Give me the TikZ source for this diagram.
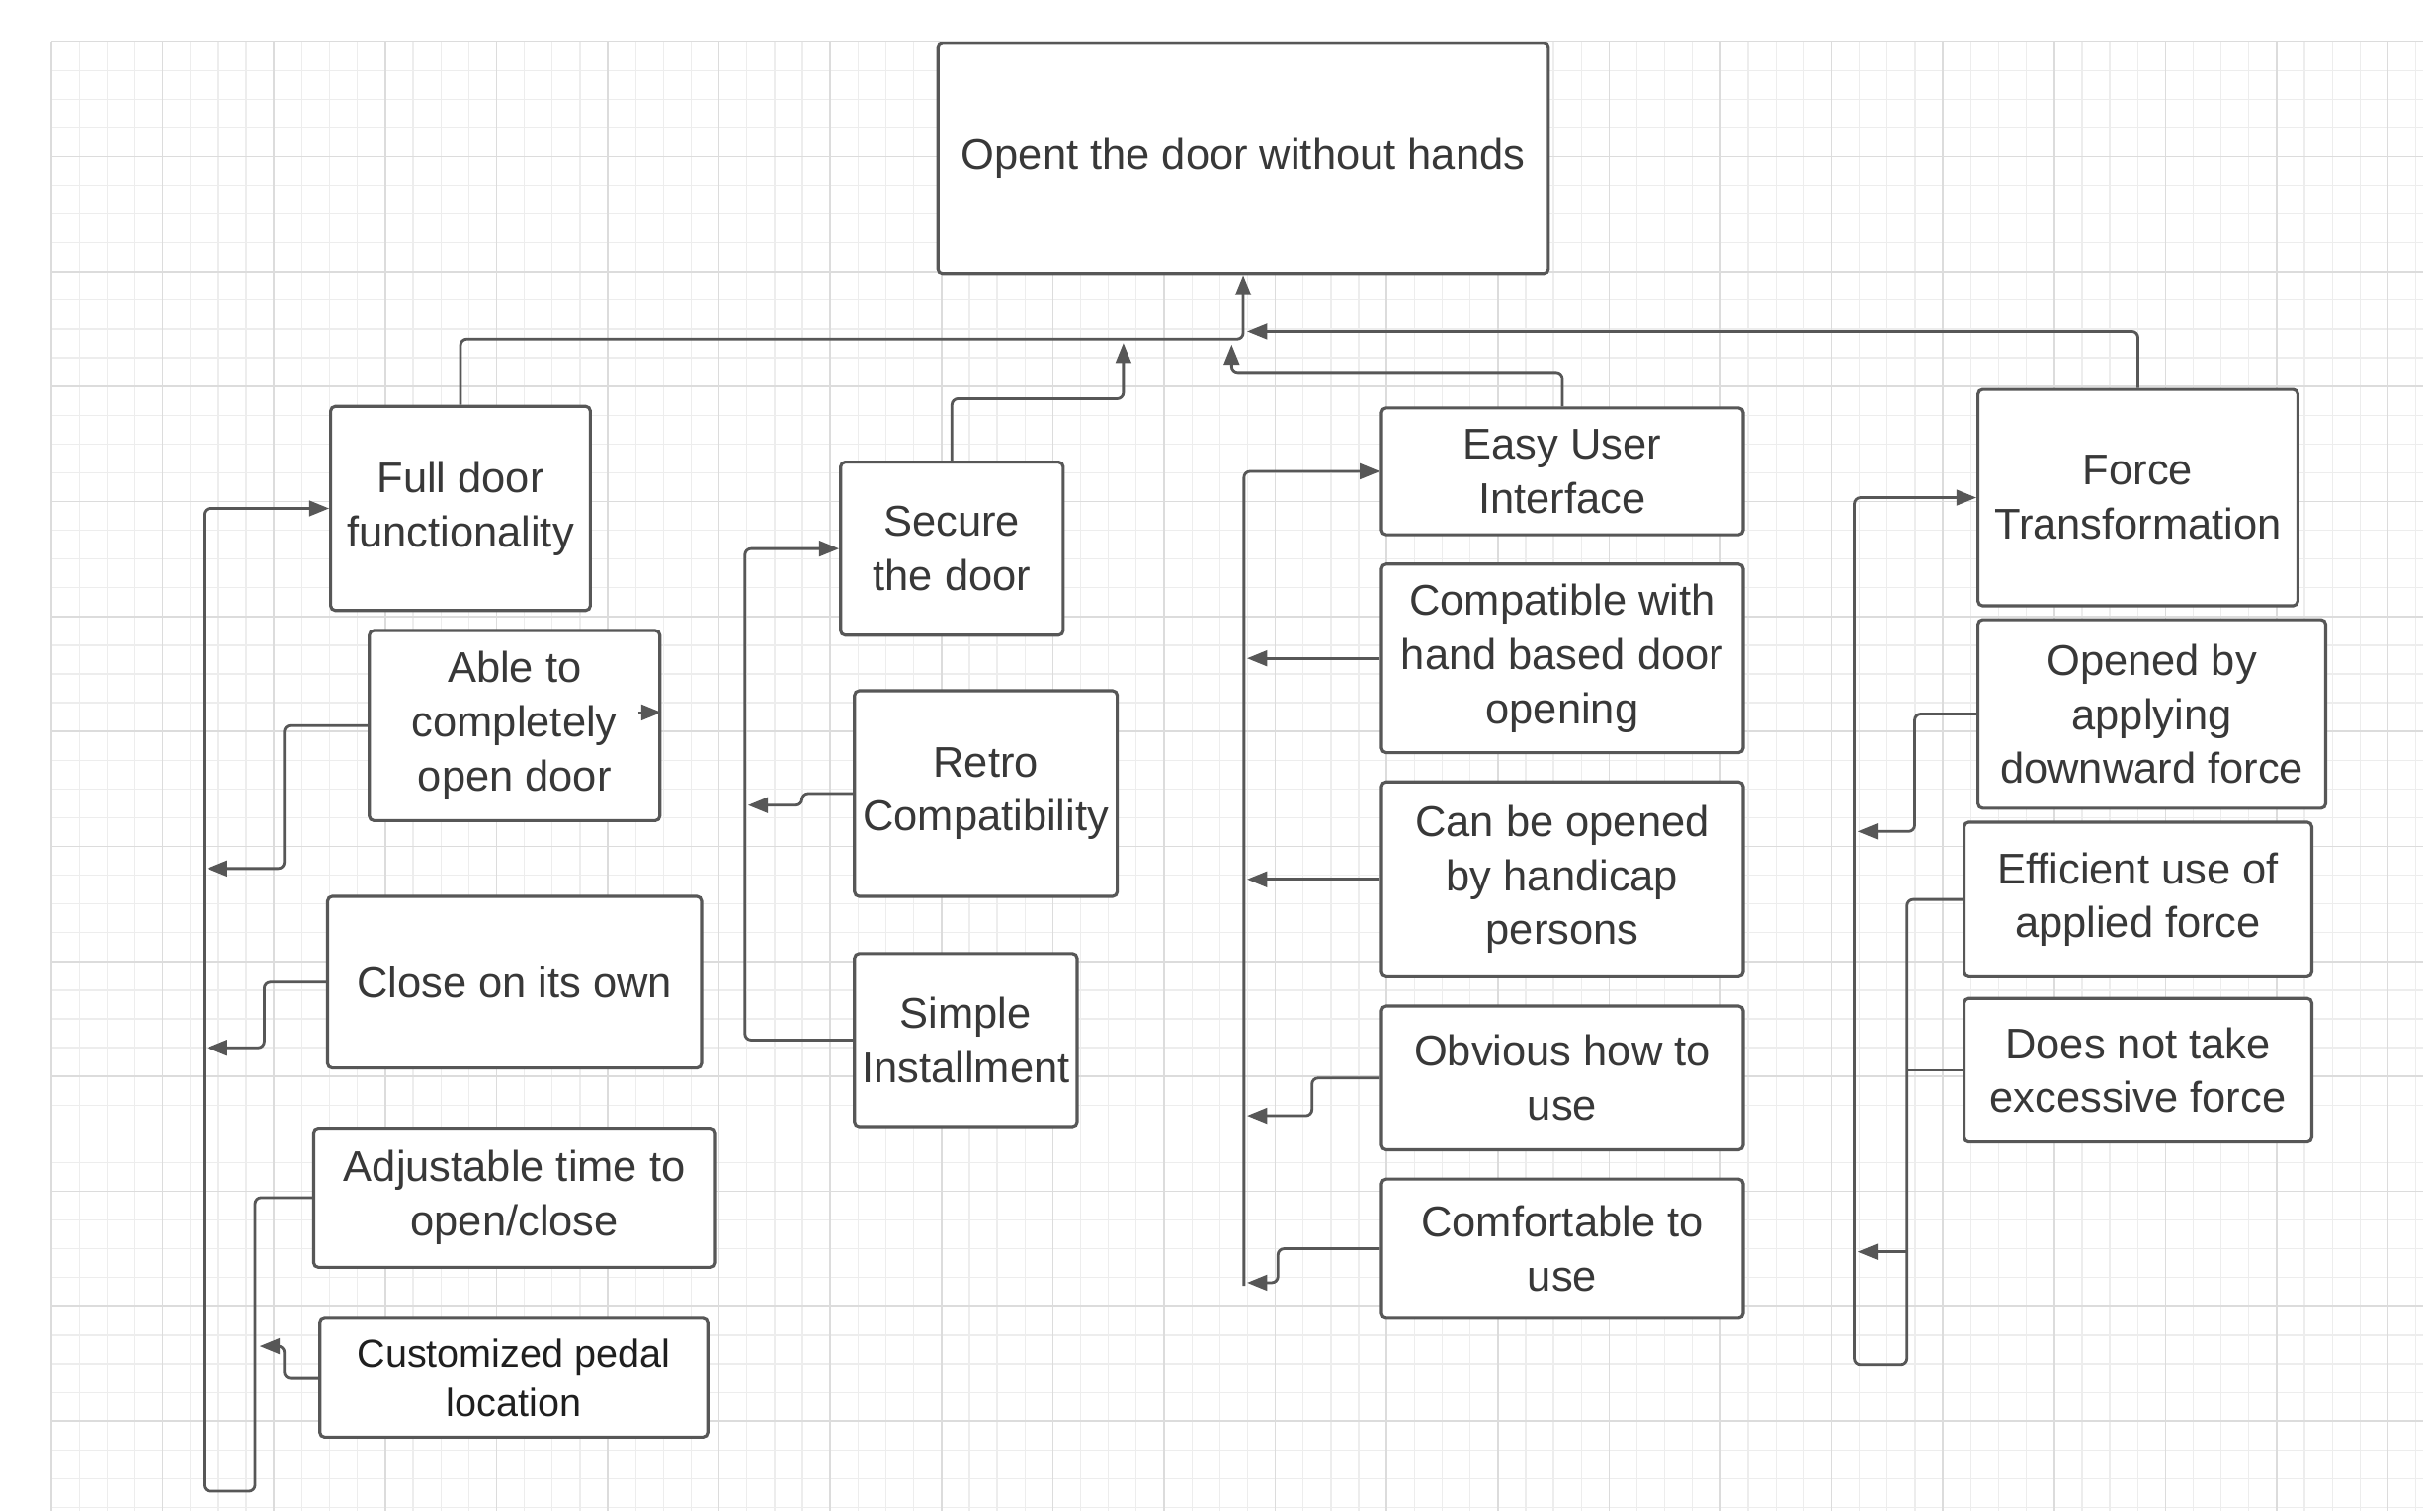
\documentclass[tikz,border=0pt]{standalone}
\usepackage{fontspec}
\setmainfont{Liberation Sans}
\usetikzlibrary{arrows.meta}
\definecolor{linec}{HTML}{575757}
\definecolor{textc}{HTML}{383838}
\definecolor{gridminor}{HTML}{EDEDED}
\definecolor{gridmajor}{HTML}{DCDCDC}
\newcommand\fs{\fontsize{27.8}{35}\selectfont}
\newcommand\fss{\fontsize{25.3}{32}\selectfont}
\tikzset{
  box/.style={draw=linec, line width=2pt, rounded corners=3pt, fill=white, align=center, font=\fs, text=textc, inner sep=0pt},
  conn/.style={draw=linec, line width=1.8pt, rounded corners=4pt},
  arr/.style={conn, -{Triangle[length=13pt,width=10pt]}},
}
\begin{document}
\begin{tikzpicture}[x=1pt,y=-1pt]
\useasboundingbox (0,0) rectangle (1568,978);
\fill[white] (0,0) rectangle (1568,978);
% grid
\foreach \i in {0,...,86} {\draw[gridminor,line width=0.8pt] (33.3+\i*18.0,26.9) -- (33.3+\i*18.0,978);}
\foreach \j in {0,...,51} {\draw[gridminor,line width=0.8pt] (33.3,26.9+\j*18.6) -- (1568,26.9+\j*18.6);}
\foreach \i in {0,...,21} {\draw[gridmajor,line width=1pt] (33.3+\i*72.0,26.9) -- (33.3+\i*72.0,978);}
\foreach \j in {0,...,12} {\draw[gridmajor,line width=1pt] (33.3,26.9+\j*74.4) -- (1568,26.9+\j*74.4);}

% nodes
\node[box, minimum width=395, minimum height=149] (top) at (804.5,102.5) {Opent the door without hands};
\node[box, minimum width=168, minimum height=132] (full) at (298,329) {Full door\\functionality};
\node[box, minimum width=188, minimum height=123] (able) at (333,469.5) {Able to\\completely\\open door};
\node[box, minimum width=242, minimum height=111] (close) at (333,635.5) {Close on its own};
\node[box, minimum width=260, minimum height=90] (adjust) at (333,775) {Adjustable time to\\open/close};
\node[box, minimum width=251, minimum height=77, font=\fss, text=black!88] (custom) at (332.5,891.5) {Customized pedal\\location};
\node[box, minimum width=144, minimum height=112] (secure) at (616,355) {Secure\\the door};
\node[box, minimum width=170, minimum height=133] (retro) at (638,513.5) {Retro\\Compatibility};
\node[box, minimum width=144, minimum height=112] (simple) at (625,673) {Simple\\Installment};
\node[box, minimum width=234, minimum height=82] (eui) at (1011,305) {Easy User\\Interface};
\node[box, minimum width=234, minimum height=122] (compat) at (1011,426) {Compatible with\\hand based door\\opening};
\node[box, minimum width=234, minimum height=126] (canbe) at (1011,569) {Can be opened\\by handicap\\persons};
\node[box, minimum width=234, minimum height=93] (obvious) at (1011,697.5) {Obvious how to\\use};
\node[box, minimum width=234, minimum height=90] (comfort) at (1011,808) {Comfortable to\\use};
\node[box, minimum width=207, minimum height=140] (ft) at (1383.5,322) {Force\\Transformation};
\node[box, minimum width=225, minimum height=122] (opened) at (1392.5,462) {Opened by\\applying\\downward force};
\node[box, minimum width=225, minimum height=100] (efficient) at (1383.5,582) {Efficient use of\\applied force};
\node[box, minimum width=225, minimum height=93] (doesnot) at (1383.5,692.5) {Does not take\\excessive force};

% junction coordinates
\coordinate (jA) at (804.5,219.5);
\coordinate (tS) at (727,222);
\coordinate (tE) at (797,223);
\coordinate (tF) at (807,214.5);
\coordinate (tA) at (134,562);
\coordinate (tC) at (134,678);
\coordinate (tP) at (168,871);
\coordinate (sA) at (413,461);
\coordinate (tR) at (484,521);
\coordinate (eB) at (805,832);
\coordinate (tCo) at (807,426);
\coordinate (tCa) at (807,569);
\coordinate (tO) at (807,722);
\coordinate (tCf) at (807,830);
\coordinate (fJ) at (1234,810);
\coordinate (tFJ) at (1202,810);
\coordinate (tOp) at (1202,538);

% top tree
\draw[arr] (full.north) |- (jA) -- (top.south);
\draw[arr] (secure.north) -- ++(0,-40) -| (tS);
\draw[arr] (eui.north) -- ++(0,-22) -| (tE);
\draw[arr] (ft.north) |- (tF);

% full door group
\draw[arr] (adjust.west) -- (165,775) -- (165,965) -- (132,965) |- (full.west);
\draw[arr] (able.west) -- ++(-54,0) |- (tA);
\draw[arr] (close.west) -- ++(-40,0) |- (tC);
\draw[arr] (custom.west) -- ++(-22,0) |- (tP);
\draw[arr] (sA) -- (sA -| able.east);

% secure group
\draw[arr] (simple.west) -- (482,673) |- (secure.west);
\draw[arr] (retro.west) -- ++(-33,0) |- (tR);

% easy user interface group
\draw[arr] (eB) |- (eui.west);
\draw[arr] (compat.west) -- (tCo);
\draw[arr] (canbe.west) -- (tCa);
\draw[arr] (obvious.west) -- ++(-44,0) |- (tO);
\draw[arr] (comfort.west) -- ++(-66,0) |- (tCf);

% force transformation group
\draw[arr] (efficient.west) -- (1234,582) -- (1234,883) -- (1200,883) |- (ft.west);
\draw[conn] (doesnot.west) -- (1234,692.5);
\draw[arr] (fJ) -- (tFJ);
\draw[arr] (opened.west) -- ++(-40,0) |- (tOp);
\end{tikzpicture}
\end{document}
